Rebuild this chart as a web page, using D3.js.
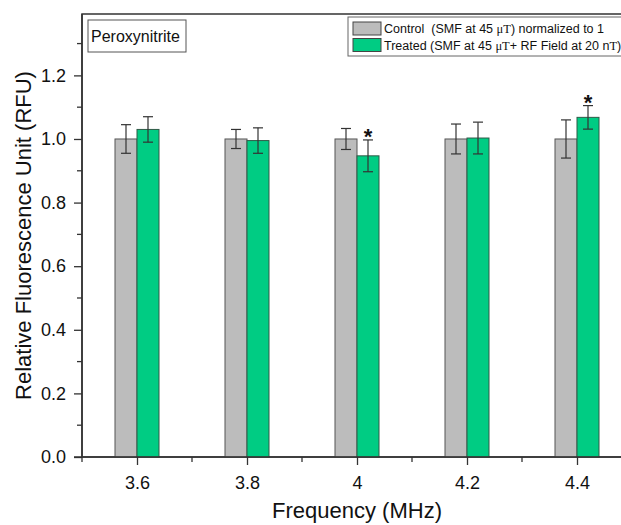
<!DOCTYPE html>
<html>
<head>
<meta charset="utf-8">
<script src="https://cdn.jsdelivr.net/npm/d3@7"></script>
<style>
  body { margin: 0; background: #fff; }
  svg { display: block; font-family: Arial, "Liberation Sans", sans-serif; }
</style>
</head>
<body>
<div id="chart"></div>
<script>
// values
const freqs = [3.6, 3.8, 4.0, 4.2, 4.4];
const freqLabels = ["3.6", "3.8", "4", "4.2", "4.4"];
const controlMean = [1.0, 1.0, 1.0, 1.0, 1.0];
const controlErr = [0.045, 0.03, 0.033, 0.047, 0.06];
const treatedMean = [1.03, 0.995, 0.947, 1.003, 1.068];
const treatedErr = [0.04, 0.04, 0.05, 0.05, 0.037];
const significant = [false, false, true, false, true];
const yTicks = [0, 0.2, 0.4, 0.6, 0.8, 1.0, 1.2];
const yMinorTicks = [0.1, 0.3, 0.5, 0.7, 0.9, 1.1, 1.3];
const xMinorTicks = [3.5, 3.7, 3.9, 4.1, 4.3];

const width = 621, height = 525;
const barW = 0.04; // in MHz units

const svg = d3.select("#chart").append("svg")
  .attr("width", width)
  .attr("height", height);

const x = d3.scaleLinear().domain([3.5, 4.5]).range([82, 632]);
const y = d3.scaleLinear().domain([0, 1.393]).range([457, 14]);

const axisColor = "#333";

// frame (top + right, the right side falls outside the window)
svg.append("rect")
  .attr("x", x(3.5)).attr("y", y(1.393))
  .attr("width", x(4.5) - x(3.5)).attr("height", y(0) - y(1.393))
  .attr("fill", "none").attr("stroke", axisColor).attr("stroke-width", 1.5);

// bars
const data = freqs.map((f, i) => ({
  f, label: freqLabels[i],
  c: controlMean[i], ce: controlErr[i],
  t: treatedMean[i], te: treatedErr[i],
  sig: significant[i]
}));

const g = svg.append("g");

g.selectAll(".ctrl").data(data).enter().append("rect")
  .attr("class", "ctrl")
  .attr("x", d => x(d.f - barW))
  .attr("y", d => y(d.c))
  .attr("width", d => x(d.f) - x(d.f - barW))
  .attr("height", d => y(0) - y(d.c))
  .attr("fill", "#bcbcbc")
  .attr("stroke", "#555")
  .attr("stroke-width", 1);

g.selectAll(".trt").data(data).enter().append("rect")
  .attr("class", "trt")
  .attr("x", d => x(d.f))
  .attr("y", d => y(d.t))
  .attr("width", d => x(d.f + barW) - x(d.f))
  .attr("height", d => y(0) - y(d.t))
  .attr("fill", "#00cc83")
  .attr("stroke", "#2f5a47")
  .attr("stroke-width", 1);

// error bars
function errorBars(cls, cx, mean, err) {
  const eb = g.selectAll("." + cls).data(data).enter().append("g")
    .attr("class", cls)
    .attr("stroke", "#333").attr("stroke-width", 1.2);
  eb.append("line")
    .attr("x1", cx).attr("x2", cx)
    .attr("y1", d => y(mean(d) + err(d))).attr("y2", d => y(mean(d) - err(d)));
  eb.append("line")
    .attr("x1", d => cx(d) - 5).attr("x2", d => cx(d) + 5)
    .attr("y1", d => y(mean(d) + err(d))).attr("y2", d => y(mean(d) + err(d)));
  eb.append("line")
    .attr("x1", d => cx(d) - 5).attr("x2", d => cx(d) + 5)
    .attr("y1", d => y(mean(d) - err(d))).attr("y2", d => y(mean(d) - err(d)));
}
errorBars("ebc", d => x(d.f - barW / 2), d => d.c, d => d.ce);
errorBars("ebt", d => x(d.f + barW / 2), d => d.t, d => d.te);

// significance stars
g.selectAll(".star").data(data.filter(d => d.sig)).enter().append("text")
  .attr("class", "star")
  .attr("x", d => x(d.f + barW / 2))
  .attr("y", d => y(d.t + d.te) + 4)
  .attr("text-anchor", "middle")
  .attr("font-size", 22)
  .attr("font-weight", "bold")
  .attr("fill", "#111")
  .text("*");

// y axis
const yAxis = svg.append("g")
  .attr("transform", `translate(${x(3.5)},0)`)
  .call(d3.axisLeft(y).tickValues(yTicks).tickFormat(d3.format(".1f")).tickSize(8).tickPadding(8));
yAxis.selectAll(".tick text").attr("font-size", 18).attr("fill", "#111");
yAxis.selectAll("line").attr("stroke", axisColor).attr("stroke-width", 1.3);
yAxis.select(".domain").remove();
svg.append("g").selectAll("line").data(yMinorTicks).enter().append("line")
  .attr("x1", x(3.5) - 5).attr("x2", x(3.5))
  .attr("y1", d => y(d)).attr("y2", d => y(d))
  .attr("stroke", axisColor).attr("stroke-width", 1.3);

// x axis
const xAxis = svg.append("g")
  .attr("transform", `translate(0,${y(0)})`)
  .call(d3.axisBottom(x).tickValues(freqs).tickFormat((d, i) => freqLabels[i]).tickSize(8).tickPadding(11));
xAxis.selectAll(".tick text").attr("font-size", 18).attr("fill", "#111");
xAxis.selectAll("line").attr("stroke", axisColor).attr("stroke-width", 1.3);
xAxis.select(".domain").remove();
svg.append("g").selectAll("line").data(xMinorTicks).enter().append("line")
  .attr("x1", d => x(d)).attr("x2", d => x(d))
  .attr("y1", y(0)).attr("y2", y(0) + 5)
  .attr("stroke", axisColor).attr("stroke-width", 1.3);

// axis lines
svg.append("line")
  .attr("x1", x(3.5)).attr("x2", x(3.5)).attr("y1", y(1.393)).attr("y2", y(0))
  .attr("stroke", axisColor).attr("stroke-width", 1.5);
svg.append("line")
  .attr("x1", x(3.5) - 8).attr("x2", x(4.5)).attr("y1", y(0)).attr("y2", y(0))
  .attr("stroke", axisColor).attr("stroke-width", 1.5);

// axis titles
svg.append("text")
  .attr("x", (x(3.5) + x(4.5)) / 2)
  .attr("y", 518)
  .attr("text-anchor", "middle")
  .attr("font-size", 22)
  .attr("fill", "#111")
  .text("Frequency (MHz)");

svg.append("text")
  .attr("transform", `translate(31,${(y(0) + y(1.393)) / 2}) rotate(-90)`)
  .attr("text-anchor", "middle")
  .attr("font-size", 22)
  .attr("fill", "#111")
  .text("Relative Fluorescence Unit (RFU)");

// panel label
svg.append("rect")
  .attr("x", 88).attr("y", 20).attr("width", 98).attr("height", 32)
  .attr("fill", "#fff").attr("stroke", "#555").attr("stroke-width", 1);
svg.append("text")
  .attr("x", 91).attr("y", 42)
  .attr("font-size", 16)
  .attr("fill", "#111")
  .text("Peroxynitrite");

// legend
const legendItems = [
  { color: "#bcbcbc", pre: "Control  (SMF at 45 ", post: ") normalized to 1" },
  { color: "#00cc83", pre: "Treated (SMF at 45 ", post: "+ RF Field at 20 n" , tail: ")" }
];
const legend = svg.append("g");
legend.append("rect")
  .attr("x", 348).attr("y", 17).attr("width", 300).attr("height", 39)
  .attr("fill", "#fff").attr("stroke", "#666").attr("stroke-width", 1);
const li = legend.selectAll(".li").data(legendItems).enter().append("g")
  .attr("transform", (d, i) => `translate(353,${22 + i * 16.5})`);
li.append("rect")
  .attr("width", 28).attr("height", 13)
  .attr("fill", d => d.color).attr("stroke", "#444").attr("stroke-width", 1);
const lt = li.append("text")
  .attr("x", 31).attr("y", 11)
  .attr("font-size", 12.5)
  .attr("fill", "#111")
  .style("white-space", "pre");
lt.append("tspan").text(d => d.pre);
lt.append("tspan").attr("font-family", "'Liberation Serif', 'Times New Roman', serif").text("\u03bcT");
lt.append("tspan").text(d => d.post);
lt.filter(d => d.tail).append("tspan").attr("font-family", "'Liberation Serif', 'Times New Roman', serif").text("T");
lt.filter(d => d.tail).append("tspan").text(d => d.tail);
</script>
</body>
</html>
